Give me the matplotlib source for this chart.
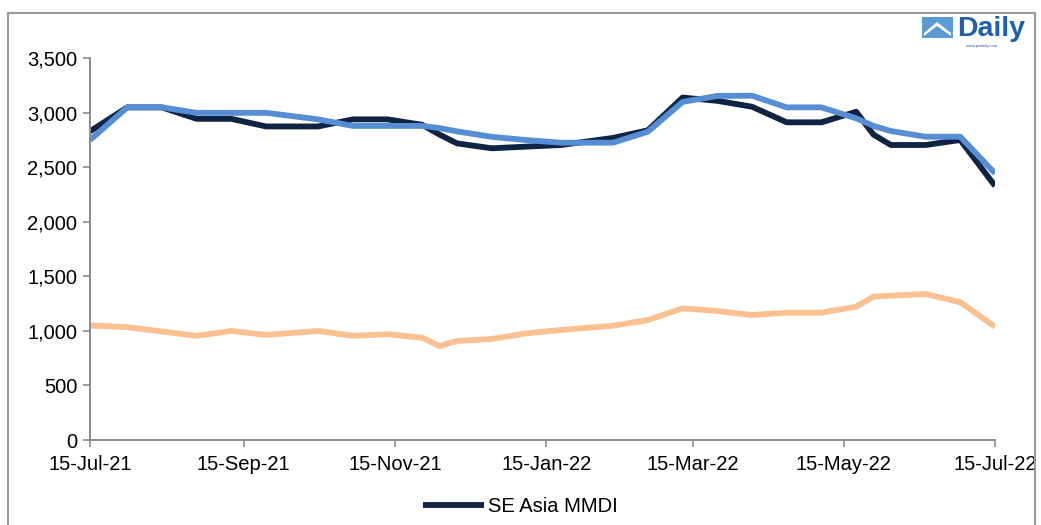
import numpy as np
import pandas as pd
import matplotlib
matplotlib.use("Agg")
import matplotlib.pyplot as plt
import matplotlib.dates as mdates
from matplotlib.ticker import FuncFormatter
from matplotlib.patches import Rectangle, Polygon

plt.rcParams['font.family'] = ['Liberation Sans', 'DejaVu Sans']

# data
dates = ["2021-07-15", "2021-07-30", "2021-08-13", "2021-08-27", "2021-09-10",
         "2021-09-24", "2021-10-15", "2021-10-29", "2021-11-12", "2021-11-26",
         "2021-12-03", "2021-12-10", "2021-12-24", "2022-01-07", "2022-01-21",
         "2022-02-11", "2022-02-25", "2022-03-11", "2022-03-25", "2022-04-08",
         "2022-04-22", "2022-05-06", "2022-05-20", "2022-05-27", "2022-06-03",
         "2022-06-17", "2022-07-01", "2022-07-15"]
se_asia_mmdi = [2830, 3050, 3050, 2945, 2945, 2875, 2875, 2940, 2940, 2890,
                2800, 2720, 2675, 2690, 2705, 2770, 2840, 3140, 3110, 3056,
                2913, 2913, 3010, 2800, 2705, 2705, 2751, 2330]
blue_series = [2750, 3050, 3050, 3000, 3000, 3000, 2940, 2880, 2880, 2880,
               2860, 2830, 2780, 2750, 2726, 2726, 2827, 3100, 3155, 3157,
               3050, 3050, 2950, 2880, 2833, 2781, 2781, 2445]
orange_series = [1050, 1035, 995, 955, 1000, 963, 1000, 955, 970, 938,
                 862, 908, 926, 978, 1009, 1048, 1100, 1207, 1183, 1146,
                 1167, 1167, 1222, 1314, 1323, 1339, 1263, 1039]
tick_dates = ["2021-07-15", "2021-09-15", "2021-11-15", "2022-01-15",
              "2022-03-15", "2022-05-15", "2022-07-15"]
y_ticks = [0, 500, 1000, 1500, 2000, 2500, 3000, 3500]

x = pd.to_datetime(dates)

fig = plt.figure(figsize=(10.41, 5.25), dpi=100)
ax = fig.add_axes([90/1041, 1-440/525, (995-90)/1041, (440-58.3)/525])

lw = 4.2
ax.plot(x, orange_series, color='#FAC090', lw=lw, solid_capstyle='butt')
ax.plot(x, se_asia_mmdi, color='#0F2342', lw=lw, solid_capstyle='butt',
        label='SE Asia MMDI')
ax.plot(x, blue_series, color='#558ED5', lw=lw, solid_capstyle='butt')

ax.set_xlim(pd.Timestamp(tick_dates[0]), pd.Timestamp(tick_dates[-1]))
ax.set_ylim(0, 3500)
ax.set_xticks(pd.to_datetime(tick_dates))
ax.xaxis.set_major_formatter(mdates.DateFormatter('%d-%b-%y'))
ax.set_yticks(y_ticks)
ax.yaxis.set_major_formatter(FuncFormatter(lambda v, p: f'{v:,.0f}'))

for side in ['top', 'right']:
    ax.spines[side].set_visible(False)
for side in ['left', 'bottom']:
    ax.spines[side].set_color('#8c8c8c')
    ax.spines[side].set_linewidth(1.4)
ax.tick_params(axis='both', colors='#8c8c8c', length=5, width=1.2,
               labelsize=14.5, labelcolor='#000000')
ax.tick_params(axis='x', pad=6)
ax.tick_params(axis='y', pad=4)

leg = fig.legend(loc='center', bbox_to_anchor=(0.5, 1-507/525), frameon=False,
                 fontsize=14.5, handlelength=3.0, handletextpad=0.2)

# outer chart border
fig.patches.append(Rectangle((8/1041, -0.05), (1035-8)/1041, 1.05-13/525,
                             transform=fig.transFigure, fill=False,
                             edgecolor='#9a9a9a', lw=1.5))

# logo
icon = Rectangle((922/1041, 1-38/525), 31/1041, 21/525, transform=fig.transFigure,
                 facecolor='#5B9BD5', edgecolor='none')
fig.patches.append(icon)
roof = Polygon([(924/1041, 1-33/525), (937/1041, 1-22/525), (951/1041, 1-33/525),
                (951/1041, 1-36/525), (937/1041, 1-26/525), (924/1041, 1-36/525)],
               closed=True, transform=fig.transFigure, facecolor='white',
               edgecolor='none')
fig.patches.append(roof)
fig.text(957/1041, 1-36/525, 'Daily', fontsize=20.5, fontweight='bold',
         color='#1F5FAF', va='baseline', ha='left')
fig.text(966/1041, 1-46/525, 'www.psdaily.com', fontsize=3, color='#1F5FAF',
         va='center', ha='left')

fig.savefig('out.png', dpi=100)
